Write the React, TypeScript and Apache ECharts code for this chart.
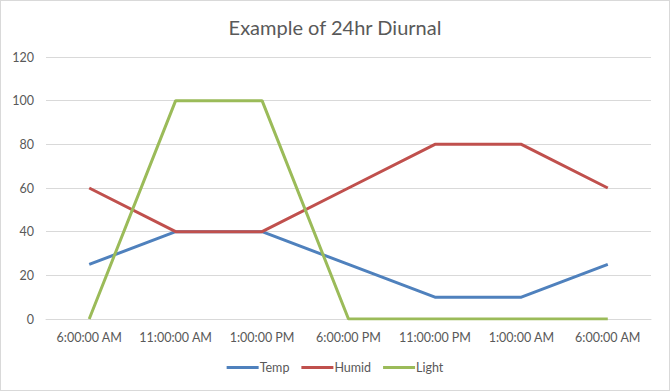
import React, { useEffect, useRef } from "react";
import * as echarts from "echarts";

const categories = ["6:00:00 AM", "11:00:00 AM", "1:00:00 PM", "6:00:00 PM", "11:00:00 PM", "1:00:00 AM", "6:00:00 AM"];
const temp = [25, 40, 40, 25, 10, 10, 25];
const humid = [60, 40, 40, 60, 80, 80, 60];
const light = [0, 100, 100, 0, 0, 0, 0];

const FONT = "Lato, 'Open Sans', sans-serif";
const TXT = "#595959";

export default function App() {
  const ref = useRef<HTMLDivElement>(null);
  useEffect(() => {
    if (!ref.current) return;
    const chart = echarts.init(ref.current, undefined, { renderer: "svg" });
    const mk = (name: string, data: number[], color: string) => ({
      name,
      type: "line",
      data,
      symbol: "none",
      lineStyle: { color, width: 3 },
      itemStyle: { color },
    });
    chart.setOption({
      animation: false,
      backgroundColor: "#fff",
      title: {
        text: "Example of 24hr Diurnal",
        left: "center",
        top: 11,
        textStyle: { fontFamily: FONT, fontSize: 20, fontWeight: "normal", color: TXT },
      },
      legend: {
        bottom: 11,
        left: "center",
        itemWidth: 32,
        itemHeight: 3,
        itemGap: 12,
        icon: "rect",
        textStyle: { fontFamily: FONT, fontSize: 12.5, color: TXT, padding: [0, 0, 0, -4] },
        data: ["Temp", "Humid", "Light"],
      },
      grid: { left: 45, right: 18, top: 56, bottom: 71 },
      xAxis: {
        type: "category",
        data: categories,
        boundaryGap: true,
        axisLine: { lineStyle: { color: "#D9D9D9", width: 1 } },
        axisTick: { show: false },
        axisLabel: { fontFamily: FONT, fontSize: 12.5, color: TXT, margin: 12, interval: 0 },
      },
      yAxis: {
        type: "value",
        min: 0,
        max: 120,
        interval: 20,
        axisLine: { show: false },
        axisTick: { show: false },
        splitLine: { lineStyle: { color: "#D9D9D9", width: 1 } },
        axisLabel: { fontFamily: FONT, fontSize: 12.5, color: TXT, margin: 12 },
      },
      series: [
        mk("Temp", temp, "#4F81BD"),
        mk("Humid", humid, "#C0504D"),
        mk("Light", light, "#9BBB59"),
      ],
    });
    return () => chart.dispose();
  }, []);
  return (
    <div
      ref={ref}
      style={{ width: 668, height: 389, border: "1px solid #D9D9D9", position: "absolute", left: 0, top: 0 }}
    />
  );
}
